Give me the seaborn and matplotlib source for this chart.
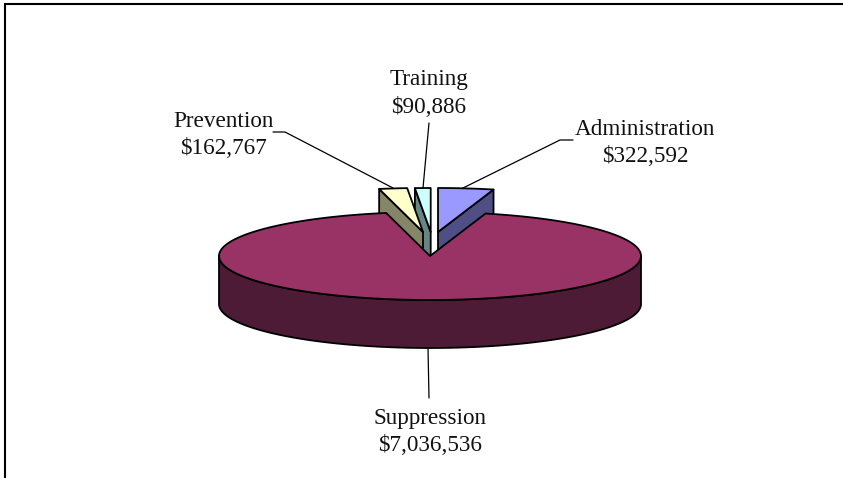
import numpy as np
import matplotlib
matplotlib.use("Agg")
import matplotlib.pyplot as plt
import seaborn as sns

categories = ["Administration", "Suppression", "Prevention", "Training"]
values = [322592, 7036536, 162767, 90886]
top_colors = ["#9999FF", "#993366", "#FFFFCC", "#CCFFFF"]
side_colors = ["#4F4F85", "#4D1B35", "#858568", "#668585"]
offsets = [(8, -24), (0, 0), (-7, -24), (0.7, -24)]
label_pos = [(645, 143), (430, 432), (223, 135), (429, 93.5)]
leaders = [[(573, 140), (560, 140), (463, 188)],
           [(428, 348), (429, 398)],
           [(273, 132), (285, 132), (393, 188)],
           [(429, 123), (423, 188)]]

CX, CY, RX, RY, DEPTH = 430, 256, 211, 44, 48
LW = 1.3

sns.set_theme(style="white")
plt.rcParams["font.family"] = ["Liberation Serif", "DejaVu Serif"]
pal = sns.color_palette(top_colors)
side_pal = sns.color_palette(side_colors)

W, H = 843, 478
fig = plt.figure(figsize=(W / 100, H / 100), dpi=100, facecolor="white")
ax = fig.add_axes([0, 0, 1, 1])
ax.set_xlim(0, W)
ax.set_ylim(H, 0)
ax.axis("off")

# slice angles clockwise from 12 o'clock, from the values
fracs = np.array(values) / np.sum(values) * 360
starts = np.concatenate([[0], np.cumsum(fracs)[:-1]])
ends = starts + fracs


def arc(a0, a1, dx=0, dy=0):
    t = np.radians(np.linspace(a0, a1, 240))
    return CX + dx + RX * np.sin(t), CY + dy - RY * np.cos(t)


def poly(xs, ys, color, z):
    ax.fill(xs, ys, facecolor=color, edgecolor="black", linewidth=LW,
            joinstyle="round", zorder=z)


idx = {c: i for i, c in enumerate(categories)}

# exploded slices: side face of the starting/closing edge, then the top
ia = idx["Administration"]
dx, dy = offsets[ia]
ax_, ay_ = arc(starts[ia], ends[ia], dx, dy)
poly([CX + dx, ax_[-1], ax_[-1], CX + dx], [CY + dy, ay_[-1], ay_[-1] + DEPTH, CY + dy + DEPTH], side_pal[ia], 2)
poly(np.r_[CX + dx, ax_], np.r_[CY + dy, ay_], pal[ia], 3)

it = idx["Training"]
dx, dy = offsets[it]
tx, ty = arc(starts[it], ends[it], dx, dy)
poly([CX + dx, tx[0], tx[0], CX + dx], [CY + dy, ty[0], ty[0] + DEPTH, CY + dy + DEPTH], side_pal[it], 2)
poly(np.r_[CX + dx, tx], np.r_[CY + dy, ty], pal[it], 3)

ip = idx["Prevention"]
dx, dy = offsets[ip]
px, py = arc(starts[ip], ends[ip], dx, dy)
poly([CX + dx, px[0], px[0], CX + dx], [CY + dy, py[0], py[0] + DEPTH, CY + dy + DEPTH], side_pal[ip], 4)
poly(np.r_[CX + dx, px], np.r_[CY + dy, py], pal[ip], 5)

# main slice: rim along the front half, then the top
im = idx["Suppression"]
rx_, ry_ = arc(90, 270)
poly(np.r_[rx_, rx_[::-1]], np.r_[ry_, ry_[::-1] + DEPTH], side_pal[im], 6)
sx, sy = arc(starts[im], ends[im])
poly(np.r_[CX, sx], np.r_[CY, sy], pal[im], 7)

# leader lines and labels
for pts in leaders:
    xs, ys = zip(*pts)
    ax.plot(xs, ys, color="black", lw=0.9, zorder=1, solid_joinstyle="miter")
for c, v, (lx, ly) in zip(categories, values, label_pos):
    ax.text(lx, ly, f"{c}\n${v:,}", ha="center", va="center", fontsize=16.7,
            color="#111111", linespacing=1.4, zorder=8)

# chart frame
ax.plot([5, 5, W], [H, 4, 4], color="black", lw=1.5, solid_joinstyle="miter", clip_on=False)

fig.savefig("out.png", dpi=100, facecolor="white")
